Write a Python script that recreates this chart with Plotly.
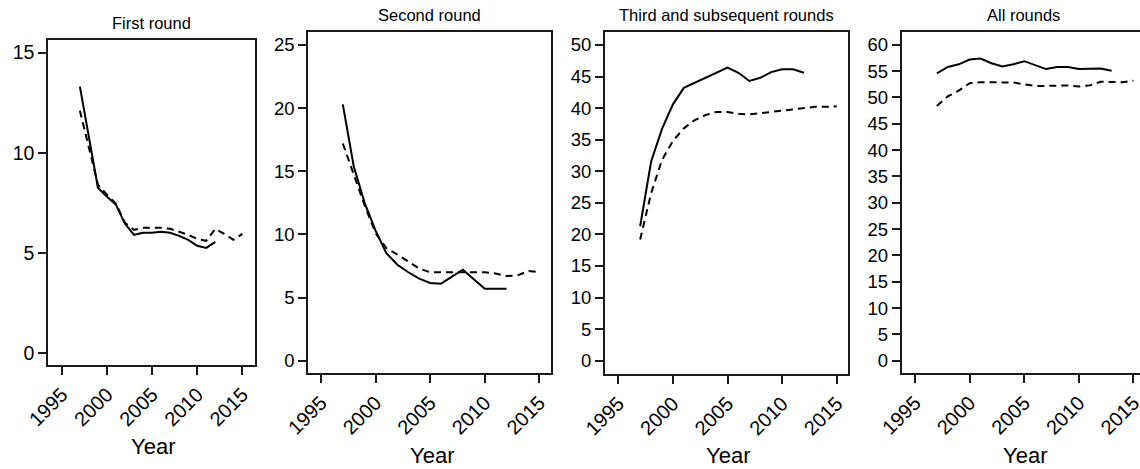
import plotly.graph_objects as go

# ---------------- data ----------------
panel_titles = ["First round", "Second round", "Third and subsequent rounds", "All rounds"]
x_label = "Year"
x_ticks = [1995, 2000, 2005, 2010, 2015]

# First round
r1_solid_years = list(range(1997, 2013))
r1_solid = [13.3, 10.8, 8.25, 7.8, 7.4, 6.45, 5.9, 6.0, 6.0, 6.05, 6.0, 5.85, 5.65, 5.35, 5.25, 5.55]
r1_dash_years = list(range(1997, 2016))
r1_dash = [12.1, 10.3, 8.4, 7.9, 7.45, 6.5, 6.15, 6.25, 6.25, 6.25, 6.2, 6.05, 5.9, 5.7, 5.6, 6.2, 5.95, 5.65, 5.95]

# Second round
r2_solid_years = list(range(1997, 2013))
r2_solid = [20.3, 15.4, 12.5, 10.3, 8.5, 7.6, 7.0, 6.5, 6.15, 6.1, 6.65, 7.2, 6.45, 5.7, 5.7, 5.7]
r2_dash_years = list(range(1997, 2016))
r2_dash = [17.2, 14.7, 12.3, 10.1, 8.9, 8.4, 7.85, 7.3, 7.0, 7.0, 7.0, 7.0, 7.0, 7.0, 6.9, 6.7, 6.75, 7.1, 7.0]

# Third and subsequent rounds
r3_solid_years = list(range(1997, 2013))
r3_solid = [21.3, 31.5, 36.7, 40.6, 43.2, 44.0, 44.8, 45.6, 46.4, 45.6, 44.3, 44.8, 45.7, 46.15, 46.15, 45.6]
r3_dash_years = list(range(1997, 2016))
r3_dash = [19.2, 26.5, 31.8, 34.8, 36.8, 38.1, 38.9, 39.4, 39.4, 39.1, 39.0, 39.2, 39.4, 39.7, 39.9, 40.1, 40.2, 40.2, 40.3]

# All rounds
r4_solid_years = list(range(1997, 2014))
r4_solid = [54.6, 55.8, 56.3, 57.2, 57.4, 56.5, 55.9, 56.3, 56.9, 56.2, 55.4, 55.8, 55.8, 55.4, 55.5, 55.5, 55.1]
r4_dash_years = list(range(1997, 2016))
r4_dash = [48.4, 50.2, 51.3, 52.7, 52.9, 52.85, 52.85, 52.85, 52.5, 52.2, 52.2, 52.3, 52.3, 52.1, 52.3, 53.0, 52.9, 52.9, 53.2]

y_ticks = [
    [0, 5, 10, 15],
    [0, 5, 10, 15, 20, 25],
    list(range(0, 51, 5)),
    list(range(0, 61, 5)),
]

# ---------------- layout geometry (pixels) ----------------
W, H = 1140, 469
boxes = [  # left, right, top, bottom
    (48.3, 255.0, 40.0, 365.0),
    (308.3, 551.0, 31.7, 373.3),
    (605.0, 848.3, 31.7, 374.0),
    (901.7, 1140.0, 31.7, 373.3),
]
x_ranges = [[1993.5, 2016.4], [1993.84, 2016.07], [1993.78, 2016.06], [1993.78, 2015.6]]
y_ranges = [[-0.6, 15.63], [-1.0, 26.05], [-2.1, 52.1], [-2.4, 62.5]]
ytick_sizes = [19.5, 18.5, 18.5, 18.5]
title_x = [151.7, 429.7, 726.7, 1023.3]
title_y = [23, 15, 15, 15]
year_x = [153, 431.7, 728, 1025]
year_y = [446.7, 455, 455, 455]

FONT = "Liberation Sans, Arial, sans-serif"
LINE = "#1a1a1a"

series = [
    (r1_solid_years, r1_solid, r1_dash_years, r1_dash),
    (r2_solid_years, r2_solid, r2_dash_years, r2_dash),
    (r3_solid_years, r3_solid, r3_dash_years, r3_dash),
    (r4_solid_years, r4_solid, r4_dash_years, r4_dash),
]

fig = go.Figure()
layout = dict(
    template="none",
    width=W, height=H,
    margin=dict(l=0, r=0, t=0, b=0, pad=0),
    paper_bgcolor="white", plot_bgcolor="white",
    showlegend=False,
    font=dict(family=FONT, color="black"),
)
annotations = []

for i, (sx, sy, dx, dy) in enumerate(series):
    n = "" if i == 0 else str(i + 1)
    xa, ya = "x" + n, "y" + n
    fig.add_trace(go.Scatter(x=dx, y=dy, mode="lines", xaxis=xa, yaxis=ya,
                             line=dict(color="black", width=2, dash="7px,5px")))
    fig.add_trace(go.Scatter(x=sx, y=sy, mode="lines", xaxis=xa, yaxis=ya,
                             line=dict(color="black", width=2)))
    l, r, t, b = boxes[i]
    layout["xaxis" + n] = dict(
        domain=[l / W, r / W], range=x_ranges[i], anchor=ya, automargin=False,
        tickmode="array", tickvals=x_ticks, ticktext=[str(v) for v in x_ticks],
        tickangle=-45, ticks="outside", ticklen=8, tickwidth=2, tickcolor=LINE,
        ticklabeloverflow="allow",
        showline=True, linecolor=LINE, linewidth=2, mirror=True,
        showgrid=False, zeroline=False,
        tickfont=dict(size=20, family=FONT, color="black"),
    )
    layout["yaxis" + n] = dict(
        domain=[(H - b) / H, (H - t) / H], range=y_ranges[i], anchor=xa, automargin=False,
        tickmode="array", tickvals=y_ticks[i], ticktext=[str(v) for v in y_ticks[i]],
        ticks="outside", ticklen=8, tickwidth=1.5, tickcolor=LINE,
        ticklabeloverflow="allow",
        showline=True, linecolor=LINE, linewidth=2, mirror=True,
        showgrid=False, zeroline=False,
        tickfont=dict(size=ytick_sizes[i], family=FONT, color="black"),
    )
    annotations.append(dict(
        x=title_x[i] / W, y=1 - title_y[i] / H, xref="paper", yref="paper",
        text=panel_titles[i], showarrow=False, xanchor="center", yanchor="middle",
        font=dict(size=16.5, family=FONT, color="black"),
    ))
    annotations.append(dict(
        x=year_x[i] / W, y=1 - year_y[i] / H, xref="paper", yref="paper",
        text=x_label, showarrow=False, xanchor="center", yanchor="middle",
        font=dict(size=22, family=FONT, color="black"),
    ))

layout["annotations"] = annotations
fig.update_layout(**layout)
fig.write_html("out.html")
